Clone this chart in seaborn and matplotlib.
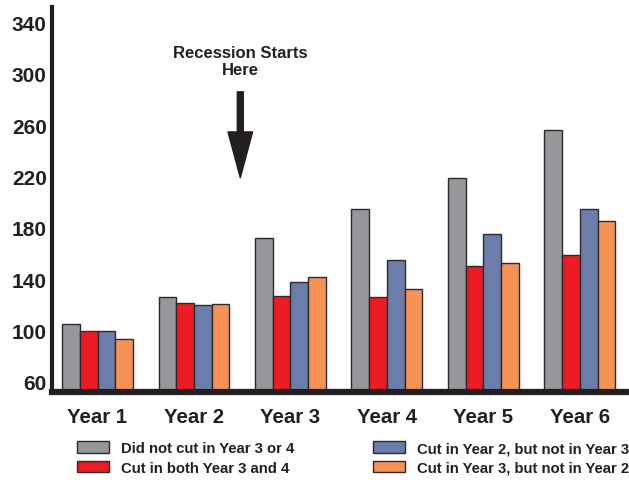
import matplotlib
matplotlib.use("Agg")
import matplotlib.pyplot as plt
import seaborn as sns
import pandas as pd

years = ["Year 1", "Year 2", "Year 3", "Year 4", "Year 5", "Year 6"]
groups = [
    "Did not cut in Year 3 or 4",
    "Cut in both Year 3 and 4",
    "Cut in Year 2, but not in Year 3",
    "Cut in Year 3, but not in Year 2",
]
no_cut = [105, 126, 172, 195, 219, 256.5]
cut_both = [99.5, 121, 127, 126, 150, 158.5]
cut_y2_only = [99.5, 120, 138, 155, 175, 195]
cut_y3_only = [93, 120.5, 142, 132, 152.5, 185.5]
yticks = [60, 100, 140, 180, 220, 260, 300, 340]
colors = ["#96979b", "#ed1c24", "#6a7dab", "#f79257"]

rows = []
for g, vals in zip(groups, [no_cut, cut_both, cut_y2_only, cut_y3_only]):
    for y, v in zip(years, vals):
        rows.append({"year": y, "group": g, "value": v})
df = pd.DataFrame(rows)

sns.set_theme(style="white")
plt.rcParams["font.family"] = ["Liberation Sans", "DejaVu Sans"]
dark = "#231f20"

fig = plt.figure(figsize=(6.29, 4.81), dpi=100)
ax = fig.add_axes([0.083, 0.183, 0.917, 0.800])

sns.barplot(data=df, x="year", y="value", hue="group", hue_order=groups,
            palette=colors, saturation=1, width=0.735, edgecolor="#2b2b2b",
            linewidth=1.0, ax=ax)

ax.set_xlim(-0.47, 5.51)
ax.set_ylim(52, 352)
ax.set_yticks(yticks)
ax.set_yticklabels([str(t) for t in yticks])
ax.set_xlabel("")
ax.set_ylabel("")

for s in ["top", "right"]:
    ax.spines[s].set_visible(False)
ax.spines["left"].set_linewidth(3)
ax.spines["left"].set_color(dark)
ax.spines["bottom"].set_linewidth(4.5)
ax.spines["bottom"].set_color(dark)
ax.tick_params(axis="both", length=0)
ax.tick_params(axis="y", pad=4, labelsize=15, labelcolor=dark)
ax.tick_params(axis="x", pad=11, labelsize=14.7, labelcolor=dark)
for lab in ax.get_xticklabels() + ax.get_yticklabels():
    lab.set_fontweight("bold")

# recession marker
ax.annotate("", xy=(1.48, 219), xytext=(1.48, 286),
            arrowprops=dict(arrowstyle="simple,head_length=3.3,head_width=1.77,tail_width=0.43",
                            mutation_scale=10, color=dark, shrinkA=0, shrinkB=0))
ax.text(1.48, 310, "Recession Starts\nHere", ha="center", va="center",
        fontsize=12, fontweight="bold", color=dark, linespacing=1.15)

# legend in two columns placed under the axis
handles, labels = ax.get_legend_handles_labels()
ax.get_legend().remove()
for h in handles:
    h.set_edgecolor("#2b2b2b")
    h.set_linewidth(1.0)
common = dict(frameon=False, handlelength=2.15, handleheight=0.8,
              handletextpad=0.8, labelspacing=0.38, borderpad=0, borderaxespad=0,
              labelcolor=dark, prop={"weight": "bold", "size": 10.7})
leg1 = fig.legend(handles[:2], labels[:2], loc="upper left",
                  bbox_to_anchor=(77 / 629, 1 - 442 / 481), **common)
leg2 = fig.legend(handles[2:], labels[2:], loc="upper left",
                  bbox_to_anchor=(373 / 629, 1 - 442 / 481), **common)

fig.savefig("out.png", dpi=100)
